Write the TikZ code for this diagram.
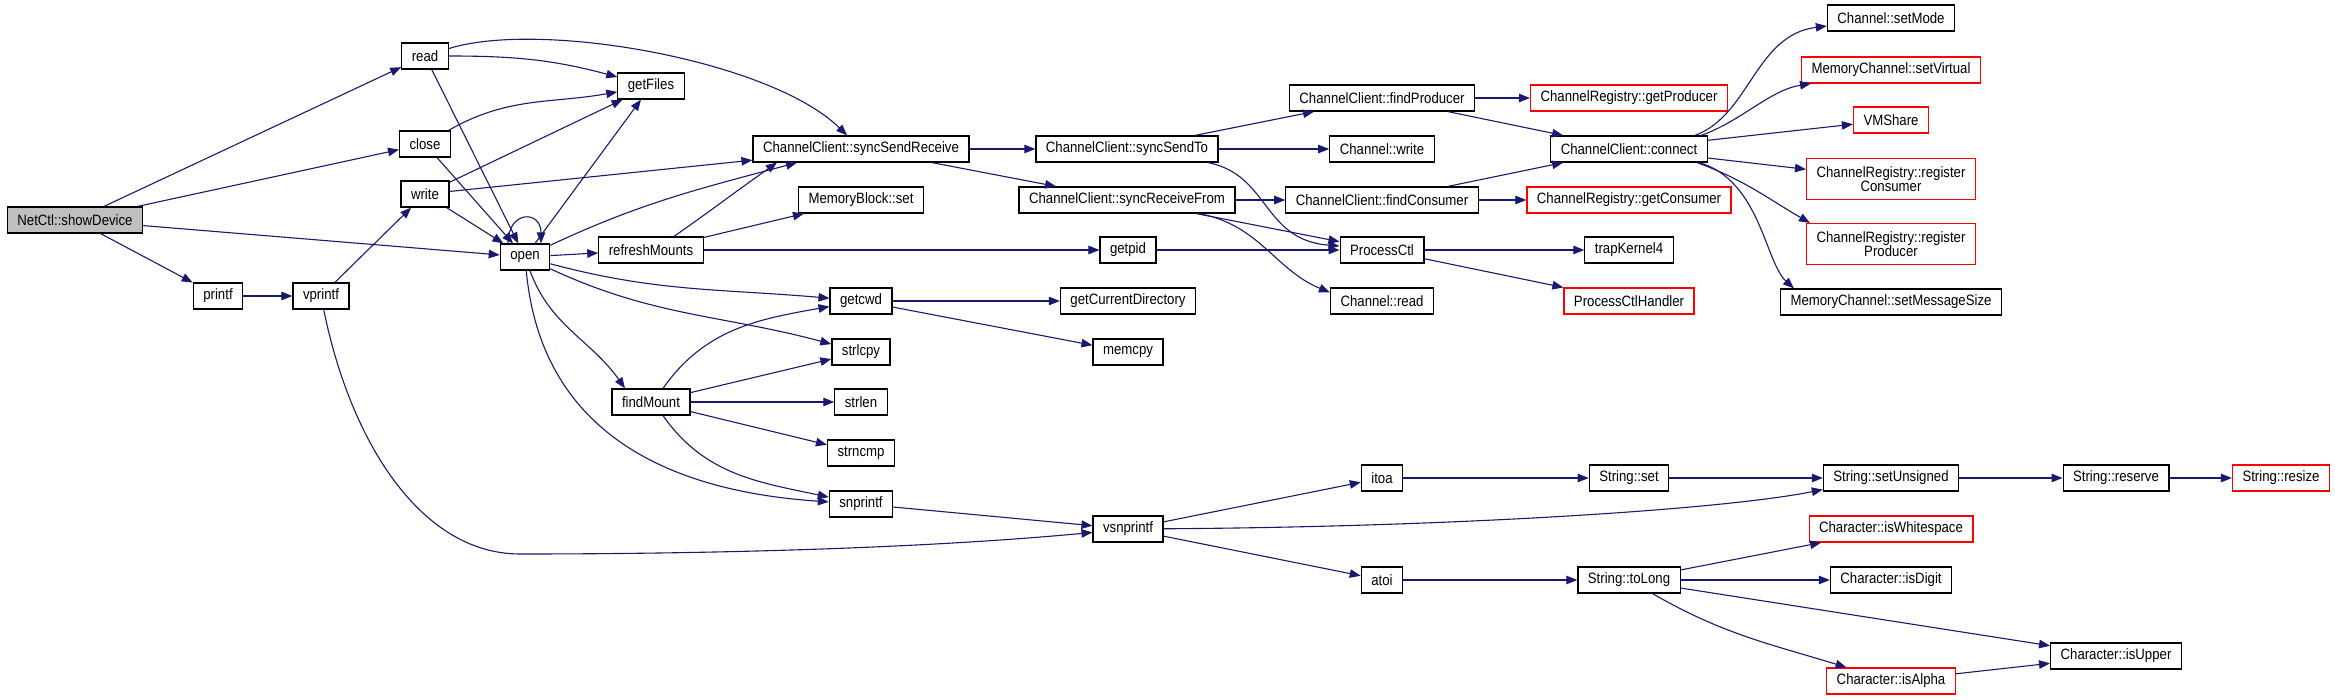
\documentclass[tikz,border=0pt]{standalone}
\usepackage{fontspec}
\setmainfont{Liberation Sans}[FakeStretch=0.88]
\usepackage{tikz}
\usetikzlibrary{arrows.meta}
\definecolor{callBlue}{RGB}{25,25,112}
\definecolor{rootGray}{RGB}{191,191,191}
\definecolor{stubRed}{RGB}{255,0,0}

\begin{document}
\begin{tikzpicture}[x=1pt, y=1pt,
    fn/.style={draw=black, line width=1.2pt, fill=white, inner xsep=10pt, inner ysep=4pt,
               minimum height=26pt, align=center, font=\fontsize{15}{14}\selectfont},
    fnroot/.style={fn, fill=rootGray},
    fnext/.style={fn, draw=stubRed},
    call/.style={draw=callBlue, line width=1.1pt, -{Triangle[length=11pt, width=8.5pt]}}]
  \useasboundingbox (0,0) rectangle (2335,-700);

  \node[fnroot] (showDevice) at (75,-220) {NetCtl::showDevice};
  \node[fn] (printf) at (218,-296) {printf};
  \node[fn] (vprintf) at (321,-296) {vprintf};
  \node[fn] (read) at (425,-56) {read};
  \node[fn] (close) at (425,-144) {close};
  \node[fn] (write) at (425,-194) {write};
  \node[fn] (open) at (525,-257) {open};
  \node[fn] (getFiles) at (651,-86) {getFiles};
  \node[fn] (refreshMounts) at (651,-250) {refreshMounts};
  \node[fn] (findMount) at (651,-402) {findMount};
  \node[fn] (syncSR) at (861,-149) {ChannelClient::syncSendReceive};
  \node[fn] (blockSet) at (861,-200) {MemoryBlock::set};
  \node[fn] (getcwd) at (861,-301) {getcwd};
  \node[fn] (strlcpy) at (861,-352) {strlcpy};
  \node[fn] (strlen) at (861,-402) {strlen};
  \node[fn] (strncmp) at (861,-453) {strncmp};
  \node[fn] (snprintf) at (861,-504) {snprintf};
  \node[fn] (syncTo) at (1127,-149) {ChannelClient::syncSendTo};
  \node[fn] (syncFrom) at (1127,-200) {ChannelClient::syncReceiveFrom};
  \node[fn] (getpid) at (1128,-250) {getpid};
  \node[fn] (curDir) at (1128,-301) {getCurrentDirectory};
  \node[fn] (memcpy) at (1128,-352) {memcpy};
  \node[fn] (vsnprintf) at (1128,-529) {vsnprintf};
  \node[fn] (findProd) at (1382,-98) {ChannelClient::findProducer};
  \node[fn] (chWrite) at (1382,-149) {Channel::write};
  \node[fn] (findCons) at (1382,-200) {ChannelClient::findConsumer};
  \node[fn] (procCtl) at (1382,-250) {ProcessCtl};
  \node[fn] (chRead) at (1382,-301) {Channel::read};
  \node[fn] (itoa) at (1382,-478) {itoa};
  \node[fn] (atoi) at (1382,-580) {atoi};
  \node[fnext] (getProd) at (1629,-98) {ChannelRegistry::getProducer};
  \node[fn] (connect) at (1629,-149) {ChannelClient::connect};
  \node[fnext] (getCons) at (1629,-200) {ChannelRegistry::getConsumer};
  \node[fn] (trapK) at (1629,-250) {trapKernel4};
  \node[fnext] (ctlHandler) at (1629,-301) {ProcessCtlHandler};
  \node[fn] (strSet) at (1629,-478) {String::set};
  \node[fn] (toLong) at (1629,-580) {String::toLong};
  \node[fn] (setMode) at (1891,-18) {Channel::setMode};
  \node[fnext] (setVirtual) at (1891,-70) {MemoryChannel::setVirtual};
  \node[fnext] (vmShare) at (1891,-120) {VMShare};
  \node[fnext, minimum height=41pt] (regCons) at (1891,-179) {ChannelRegistry::register\\Consumer};
  \node[fnext, minimum height=41pt] (regProd) at (1891,-244) {ChannelRegistry::register\\Producer};
  \node[fn] (setMsgSize) at (1891,-302) {MemoryChannel::setMessageSize};
  \node[fn] (setUnsigned) at (1891,-478) {String::setUnsigned};
  \node[fnext] (isWhite) at (1891,-529) {Character::isWhitespace};
  \node[fn] (isDigit) at (1891,-580) {Character::isDigit};
  \node[fnext] (isAlpha) at (1891,-681) {Character::isAlpha};
  \node[fn] (reserve) at (2116,-478) {String::reserve};
  \node[fn] (isUpper) at (2116,-656) {Character::isUpper};
  \node[fnext] (resize) at (2281,-478) {String::resize};

  \foreach \a/\b in {showDevice/read, showDevice/close, showDevice/open, showDevice/printf,
      printf/vprintf, vprintf/write, read/open, close/open, write/getFiles, write/syncSR,
      write/open, open/getFiles, open/refreshMounts, refreshMounts/blockSet,
      refreshMounts/getpid, findMount/strlcpy, findMount/strlen, findMount/strncmp,
      snprintf/vsnprintf, syncSR/syncTo, syncSR/syncFrom, syncTo/findProd, syncTo/chWrite,
      syncFrom/findCons, syncFrom/procCtl, getpid/procCtl, getcwd/curDir, getcwd/memcpy,
      vsnprintf/itoa, vsnprintf/atoi, findProd/getProd, findProd/connect, findCons/connect,
      findCons/getCons, procCtl/trapK, procCtl/ctlHandler, itoa/strSet, atoi/toLong,
      connect/vmShare, connect/regCons, strSet/setUnsigned, setUnsigned/reserve,
      reserve/resize, toLong/isWhite, toLong/isDigit, toLong/isUpper, isAlpha/isUpper}
    \draw[call] (\a) -- (\b);

  \draw[call] (read) to[out=0, in=165] (getFiles);
  \draw[call] (read) .. controls (540,-20) and (770,-60) .. (syncSR);
  \draw[call] (close) to[out=30, in=190] (getFiles);
  \draw[call] ([xshift=-17pt]open.north) to[out=90, in=90, looseness=2.6] ([xshift=16pt]open.north);
  \draw[call] (open) to[out=25, in=195] ([xshift=-64pt]syncSR.south);
  \draw[call] ([xshift=23pt]refreshMounts.north) to[out=35, in=215] ([xshift=-84pt]syncSR.south);
  \draw[call] (open) to[out=-15, in=175] (getcwd);
  \draw[call] (open) to[out=-25, in=165] (strlcpy);
  \draw[call] (open) to[out=-70, in=125] ([xshift=-26pt]findMount.north);
  \draw[call] (open) .. controls (540,-420) and (650,-490) .. (snprintf);
  \draw[call] ([xshift=12pt]findMount.north) to[out=55, in=190] (getcwd);
  \draw[call] ([xshift=12pt]findMount.south) to[out=-55, in=168] (snprintf);
  \draw[call] (vprintf) .. controls (350,-440) and (420,-554) .. (520,-554)
      .. controls (750,-554) and (950,-546) .. (vsnprintf);
  \draw[call] (vsnprintf) .. controls (1450,-527) and (1720,-510) .. ([yshift=2pt]setUnsigned.south west);
  \draw[call] ([xshift=81pt]syncTo.south) .. controls (1270,-175) and (1262,-240) .. ([yshift=4pt]procCtl.west);
  \draw[call] ([xshift=72pt]syncFrom.south) .. controls (1260,-225) and (1275,-270) .. ([yshift=-5pt]chRead.north west);
  \draw[call] ([xshift=66pt]connect.north) .. controls (1750,-115) and (1755,-35) .. (setMode);
  \draw[call] ([xshift=72pt]connect.north) .. controls (1740,-122) and (1770,-90) .. ([xshift=-80pt]setVirtual.south);
  \draw[call] ([xshift=68pt]connect.south) to[out=-20, in=150] ([xshift=4pt]regProd.north west);
  \draw[call] ([xshift=70pt]connect.south) .. controls (1760,-180) and (1765,-262) .. ([xshift=14pt]setMsgSize.north west);
  \draw[call] (toLong) to[out=-30, in=163] (isAlpha);
\end{tikzpicture}
\end{document}
